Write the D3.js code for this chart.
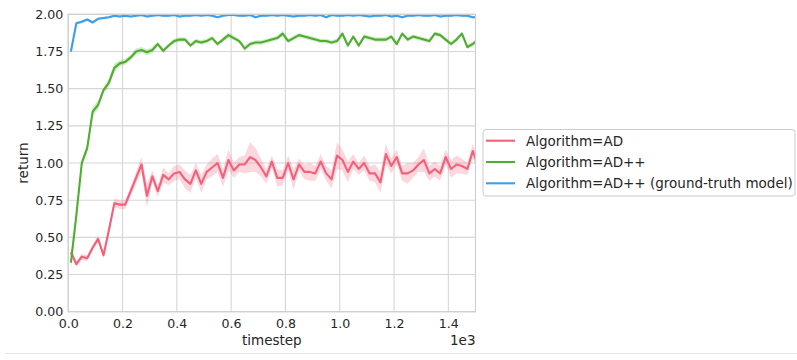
<!DOCTYPE html>
<html>
<head>
<meta charset="utf-8">
<script src="https://cdn.jsdelivr.net/npm/d3@7"></script>
<style>
  body { margin: 0; background: #fff; }
  svg { font-family: "DejaVu Sans", sans-serif; }
</style>
</head>
<body>
<div id="chart"></div>
<script>
// timesteps (one sample every 20 steps)
var timesteps = d3.range(10, 1520, 20);

var adReturn = [
  0.40, 0.32, 0.37, 0.36, 0.43, 0.49, 0.38, 0.55, 0.73, 0.72,
  0.72, 0.81, 0.90, 0.99, 0.78, 0.91, 0.81, 0.92, 0.89, 0.93,
  0.94, 0.89, 0.86, 0.95, 0.86, 0.94, 0.97, 1.00, 0.90, 1.02,
  0.95, 0.99, 0.99, 1.04, 1.02, 0.97, 0.91, 1.01, 0.90, 0.90,
  1.00, 0.89, 0.99, 0.94, 0.94, 0.93, 1.01, 0.93, 0.89, 1.05,
  1.02, 0.94, 1.01, 0.96, 1.00, 0.93, 0.93, 0.87, 1.06, 0.98,
  1.04, 0.93, 0.93, 0.95, 0.99, 1.02, 0.93, 0.96, 0.93, 1.04,
  0.96, 0.99, 0.98, 0.96, 1.08, 0.98
];
var adSpread = [
  0.03, 0.02, 0.02, 0.02, 0.02, 0.02, 0.02, 0.03, 0.03, 0.03,
  0.03, 0.03, 0.04, 0.05, 0.08, 0.04, 0.04, 0.05, 0.04, 0.05,
  0.05, 0.06, 0.06, 0.05, 0.06, 0.05, 0.06, 0.06, 0.06, 0.07,
  0.05, 0.05, 0.06, 0.10, 0.08, 0.06, 0.05, 0.04, 0.06, 0.05,
  0.05, 0.07, 0.04, 0.05, 0.06, 0.05, 0.05, 0.05, 0.06, 0.09,
  0.07, 0.07, 0.05, 0.04, 0.05, 0.05, 0.06, 0.07, 0.07, 0.05,
  0.05, 0.05, 0.07, 0.05, 0.05, 0.08, 0.05, 0.05, 0.05, 0.05,
  0.06, 0.06, 0.05, 0.04, 0.05, 0.05
];

var adppReturn = [
  0.33, 0.65, 1.00, 1.10, 1.345, 1.39, 1.49, 1.54, 1.64, 1.67,
  1.68, 1.71, 1.75, 1.76, 1.745, 1.76, 1.80, 1.755, 1.79, 1.82,
  1.83, 1.83, 1.79, 1.82, 1.81, 1.82, 1.84, 1.80, 1.83, 1.86,
  1.84, 1.82, 1.77, 1.80, 1.81, 1.81, 1.82, 1.83, 1.84, 1.87,
  1.82, 1.84, 1.86, 1.85, 1.84, 1.83, 1.82, 1.82, 1.81, 1.82,
  1.87, 1.79, 1.85, 1.79, 1.85, 1.84, 1.83, 1.83, 1.83, 1.85,
  1.80, 1.87, 1.83, 1.85, 1.84, 1.83, 1.82, 1.87, 1.86, 1.83,
  1.80, 1.83, 1.87, 1.78, 1.80, 1.83
];
var adppSpread = [
  0.05, 0.03, 0.03, 0.03, 0.03, 0.03, 0.02, 0.03, 0.03, 0.02,
  0.02, 0.02, 0.02, 0.02, 0.02, 0.02, 0.015, 0.015, 0.015, 0.015,
  0.015, 0.015, 0.015, 0.015, 0.015, 0.015, 0.015, 0.015, 0.015, 0.02,
  0.015, 0.015, 0.02, 0.015, 0.015, 0.015, 0.015, 0.015, 0.015, 0.02,
  0.015, 0.015, 0.015, 0.015, 0.015, 0.015, 0.015, 0.015, 0.015, 0.015,
  0.02, 0.015, 0.015, 0.015, 0.015, 0.015, 0.015, 0.015, 0.015, 0.015,
  0.015, 0.015, 0.015, 0.015, 0.015, 0.015, 0.015, 0.015, 0.015, 0.015,
  0.015, 0.015, 0.015, 0.015, 0.015, 0.015
];

var gtReturn = [
  1.75, 1.94, 1.95, 1.965, 1.945, 1.97, 1.975, 1.98, 1.99, 1.985,
  1.99, 1.985, 1.99, 1.995, 1.985, 1.99, 1.995, 1.99, 1.99, 1.995,
  1.985, 1.99, 1.99, 1.995, 1.99, 1.995, 1.99, 1.98, 1.99, 1.995,
  1.995, 1.99, 1.99, 1.995, 1.98, 1.99, 1.99, 1.995, 1.99, 1.995,
  1.99, 1.985, 1.99, 1.99, 1.995, 1.99, 1.995, 1.98, 1.995, 1.99,
  1.99, 1.995, 1.99, 1.995, 1.99, 1.985, 1.99, 1.99, 1.995, 1.985,
  1.99, 1.98, 1.99, 1.99, 1.995, 1.99, 1.99, 1.995, 1.985, 1.99,
  1.99, 1.995, 1.99, 1.99, 1.98, 1.98
];
var gtSpread = [
  0.02, 0.01, 0.01, 0.01, 0.01, 0.008, 0.008, 0.008, 0.008, 0.008,
  0.008, 0.008, 0.008, 0.008, 0.008, 0.008, 0.008, 0.008, 0.008, 0.008,
  0.008, 0.008, 0.008, 0.008, 0.008, 0.008, 0.008, 0.008, 0.008, 0.008,
  0.008, 0.008, 0.008, 0.008, 0.008, 0.008, 0.008, 0.008, 0.008, 0.008,
  0.008, 0.008, 0.008, 0.008, 0.008, 0.008, 0.008, 0.008, 0.008, 0.008,
  0.008, 0.008, 0.008, 0.008, 0.008, 0.008, 0.008, 0.008, 0.008, 0.008,
  0.008, 0.008, 0.008, 0.008, 0.008, 0.008, 0.008, 0.008, 0.008, 0.008,
  0.008, 0.008, 0.008, 0.008, 0.008, 0.008
];

var seriesNames = ["Algorithm=AD", "Algorithm=AD++", "Algorithm=AD++ (ground-truth model)"];
var seriesColors = ["#f45f7a", "#4fae30", "#3aa0ea"];
var xTicks = [0, 200, 400, 600, 800, 1000, 1200, 1400];
var yTicks = [0, 0.25, 0.5, 0.75, 1.0, 1.25, 1.5, 1.75, 2.0];

var series = [
  {name: seriesNames[0], color: seriesColors[0], mean: adReturn, spread: adSpread},
  {name: seriesNames[1], color: seriesColors[1], mean: adppReturn, spread: adppSpread},
  {name: seriesNames[2], color: seriesColors[2], mean: gtReturn, spread: gtSpread}
];

var W = 797, H = 360;
var margin = {top: 14.3, left: 68.2, right: 321.5, bottom: 48.3};
var width = W - margin.left - margin.right,
    height = H - margin.top - margin.bottom;

var svg = d3.select("#chart").append("svg")
  .attr("width", W)
  .attr("height", H);

// faint notebook separator at the bottom
svg.append("line")
  .attr("x1", 6).attr("x2", W)
  .attr("y1", 353.5).attr("y2", 353.5)
  .attr("stroke", "#e3e3e3").attr("stroke-width", 1);

var g = svg.append("g")
  .attr("transform", "translate(" + margin.left + "," + margin.top + ")");

var x = d3.scaleLinear().domain([0, 1500]).range([0, width]);
var y = d3.scaleLinear().domain([0, 2]).range([height, 0]);

// grid
g.selectAll(".vgrid").data(xTicks).enter().append("line")
  .attr("x1", d => x(d)).attr("x2", d => x(d))
  .attr("y1", 0).attr("y2", height)
  .attr("stroke", "#d6d6d6").attr("stroke-width", 1.1);
g.selectAll(".hgrid").data(yTicks).enter().append("line")
  .attr("x1", 0).attr("x2", width)
  .attr("y1", d => y(d)).attr("y2", d => y(d))
  .attr("stroke", "#d6d6d6").attr("stroke-width", 1.1);

svg.append("clipPath").attr("id", "plotClip")
  .append("rect").attr("x", 0).attr("y", -3).attr("width", width).attr("height", height + 3);

var plot = g.append("g").attr("clip-path", "url(#plotClip)");

var area = d3.area()
  .x((d, i) => x(timesteps[i]))
  .y0(d => y(d[0] - d[1]))
  .y1(d => y(d[0] + d[1]));
var line = d3.line()
  .x((d, i) => x(timesteps[i]))
  .y(d => y(d));

series.forEach(function (s) {
  var pairs = s.mean.map((m, i) => [m, s.spread[i]]);
  plot.append("path")
    .attr("d", area(pairs))
    .attr("fill", s.color)
    .attr("fill-opacity", 0.25);
  plot.append("path")
    .attr("d", line(s.mean))
    .attr("fill", "none")
    .attr("stroke", s.color)
    .attr("stroke-width", 2.1)
    .attr("stroke-linejoin", "round");
});

// frame
g.append("rect")
  .attr("x", 0).attr("y", 0)
  .attr("width", width).attr("height", height)
  .attr("fill", "none")
  .attr("stroke", "#cfcfcf").attr("stroke-width", 1.2);

// axes
var xAxis = d3.axisBottom(x).tickValues(xTicks).tickSize(0).tickPadding(7)
  .tickFormat(d => (d / 1000).toFixed(1));
var yAxis = d3.axisLeft(y).tickValues(yTicks).tickSize(0).tickPadding(5)
  .tickFormat(d => d.toFixed(2));

var gx = g.append("g").attr("transform", "translate(0," + height + ")").call(xAxis);
var gy = g.append("g").call(yAxis);
[gx, gy].forEach(function (a) {
  a.select(".domain").remove();
  a.selectAll("text")
    .attr("font-family", "DejaVu Sans, sans-serif")
    .attr("font-size", "12.6px")
    .attr("fill", "#262626");
});
gx.selectAll("text").attr("dy", "0.75em");

svg.append("text")
  .attr("x", margin.left + width / 2).attr("y", 345)
  .attr("text-anchor", "middle")
  .attr("font-size", "13.5px").attr("fill", "#262626")
  .text("timestep");
svg.append("text")
  .attr("x", margin.left + width).attr("y", 345)
  .attr("text-anchor", "end")
  .attr("font-size", "13.5px").attr("fill", "#262626")
  .text("1e3");
svg.append("text")
  .attr("transform", "translate(27.5," + (margin.top + height / 2) + ") rotate(-90)")
  .attr("text-anchor", "middle")
  .attr("font-size", "13.5px").attr("fill", "#262626")
  .text("return");

// legend
var legend = svg.append("g").attr("transform", "translate(483,129.5)");
legend.append("rect")
  .attr("x", 0).attr("y", 0)
  .attr("width", 312).attr("height", 66.5)
  .attr("rx", 3)
  .attr("fill", "#fff").attr("fill-opacity", 0.9)
  .attr("stroke", "#cccccc").attr("stroke-width", 1);
series.forEach(function (s, i) {
  var ly = 11.2 + i * 21.3;
  legend.append("line")
    .attr("x1", 3).attr("x2", 32)
    .attr("y1", ly).attr("y2", ly)
    .attr("stroke", s.color).attr("stroke-width", 2.1);
  legend.append("text")
    .attr("x", 43).attr("y", ly)
    .attr("dy", "0.36em")
    .attr("font-size", "13.5px").attr("fill", "#262626")
    .text(s.name);
});
</script>
</body>
</html>
